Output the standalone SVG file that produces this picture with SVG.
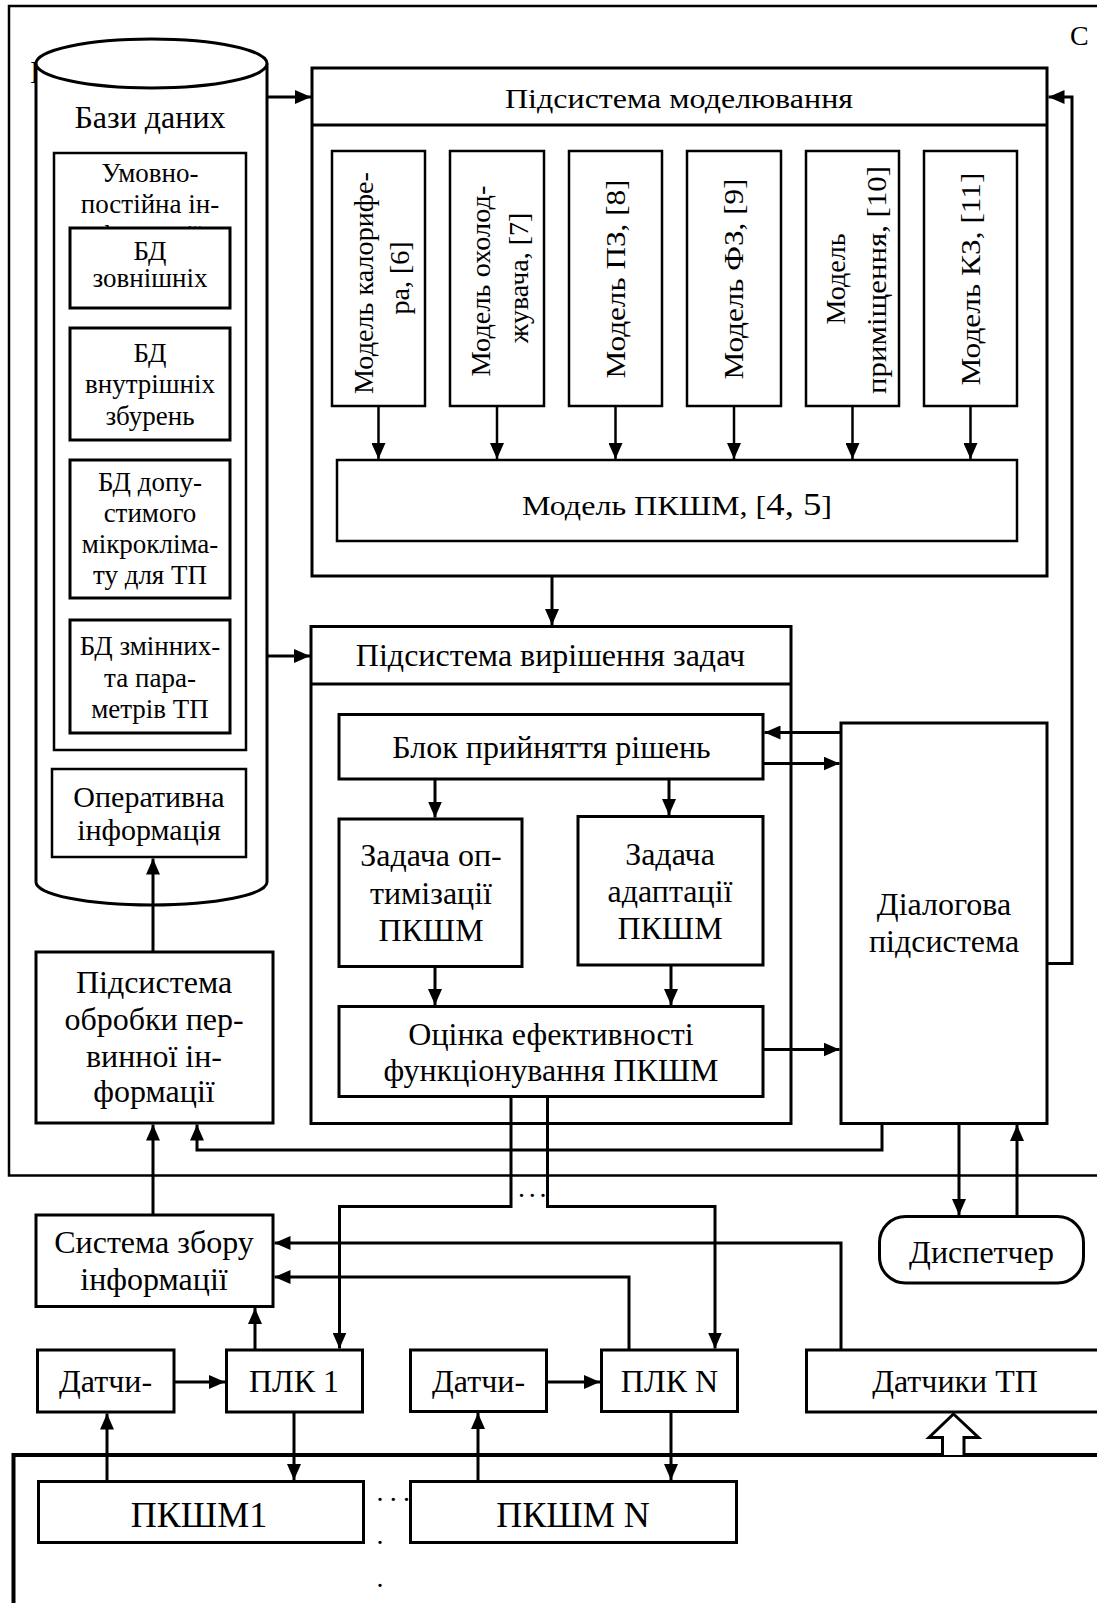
<svg xmlns="http://www.w3.org/2000/svg" width="1097" height="1603" viewBox="0 0 1097 1603">
<style>
.box{fill:#fff;stroke:#000;stroke-width:3}
.bx2{fill:#fff;stroke:#000;stroke-width:2.5}
.ln{fill:none;stroke:#000;stroke-width:3}
.ln2{fill:none;stroke:#000;stroke-width:2.5}
.ar{marker-end:url(#ah)}
.t{font-family:"Liberation Serif","Times New Roman",serif;font-size:32px;text-anchor:middle;fill:#000}
.s{font-size:27px}
.m{font-size:30px}
.r{font-size:28px}
.d{font-family:"Liberation Serif","Times New Roman",serif;font-size:28px;fill:#000}
</style>
<defs>
<marker id="ah" markerUnits="userSpaceOnUse" markerWidth="16" markerHeight="14" refX="16" refY="7" orient="auto"><path d="M0,0 L16,7 L0,14 z" fill="#000"/></marker>
</defs>
<rect width="1097" height="1603" fill="#fff"/>

<!-- frames -->
<g id="frames">
<rect x="9" y="6" width="1110" height="1169.5" fill="none" stroke="#000" stroke-width="2.5"/>
<text class="t" x="30" y="83" style="text-anchor:start">Б</text>
<text class="t" x="1070" y="45" style="text-anchor:start;font-size:28px">С</text>
<rect x="13.5" y="1455" width="1110" height="200" fill="none" stroke="#000" stroke-width="4"/>
</g>

<!-- databases cylinder -->
<g id="bazy-danyh">
<path d="M36,63.5 V882 A115.5,23 0 0 0 267,882 V63.5" fill="#fff" stroke="#000" stroke-width="3"/>
<ellipse cx="151.5" cy="63.5" rx="115.5" ry="24.5" fill="#fff" stroke="#000" stroke-width="3"/>
<text class="t" x="150" y="128">Бази даних</text>
</g>
<g id="umovno-postiyna">
<rect class="bx2" x="54" y="153" width="192" height="597"/>
<text class="t s" x="150" y="182">Умовно-</text>
<text class="t s" x="150" y="213">постійна ін-</text>
<text class="t s" x="150" y="244">формації</text>
</g>
<g id="bd-zovnishnih">
<rect class="box" x="70" y="228" width="160" height="80"/>
<text class="t s" x="150" y="260">БД</text>
<text class="t s" x="150" y="287">зовнішніх</text>
</g>
<g id="bd-vnutrishnih">
<rect class="box" x="70" y="328" width="160" height="112"/>
<text class="t s" x="150" y="362">БД</text>
<text class="t s" x="150" y="393">внутрішніх</text>
<text class="t s" x="150" y="425">збурень</text>
</g>
<g id="bd-dopustymogo">
<rect class="box" x="70" y="460" width="160" height="138"/>
<text class="t s" x="150" y="491">БД допу-</text>
<text class="t s" x="150" y="522">стимого</text>
<text class="t s" x="150" y="553">мікрокліма-</text>
<text class="t s" x="150" y="584">ту для ТП</text>
</g>
<g id="bd-zminnyh">
<rect class="box" x="70" y="620" width="160" height="113"/>
<text class="t s" x="150" y="655">БД змінних-</text>
<text class="t s" x="150" y="687">та пара-</text>
<text class="t s" x="150" y="718">метрів ТП</text>
</g>
<g id="operatyvna">
<rect class="bx2" x="52" y="769" width="194" height="88"/>
<text class="t m" x="149" y="807">Оперативна</text>
<text class="t m" x="149" y="840">інформація</text>
</g>

<!-- modelling subsystem -->
<g id="pidsystema-modelyuvannya">
<rect class="box" x="312" y="68" width="735" height="508"/>
<line x1="312" y1="125" x2="1047" y2="125" stroke="#000" stroke-width="3"/>
<text class="t" x="679" y="108" style="font-size:28px" textLength="348" lengthAdjust="spacingAndGlyphs">Підсистема моделювання</text>
</g>
<g id="model-kalorifera">
<rect class="bx2" x="332" y="151" width="93" height="255"/>
<text class="t r" transform="translate(373,283) rotate(-90)" textLength="222" lengthAdjust="spacingAndGlyphs">Модель калорифе-</text>
<text class="t r" transform="translate(409,278) rotate(-90)">ра, [6]</text>
</g>
<g id="model-oholodzhuvacha">
<rect class="bx2" x="450" y="151" width="94" height="255"/>
<text class="t r" transform="translate(490,281) rotate(-90)" textLength="191" lengthAdjust="spacingAndGlyphs">Модель охолод-</text>
<text class="t r" transform="translate(528,278) rotate(-90)">жувача, [7]</text>
</g>
<g id="model-pz">
<rect class="bx2" x="569" y="151" width="93" height="255"/>
<text class="t r" transform="translate(625,279) rotate(-90)" textLength="199" lengthAdjust="spacingAndGlyphs">Модель ПЗ, [8]</text>
</g>
<g id="model-fz">
<rect class="bx2" x="687" y="151" width="94" height="255"/>
<text class="t r" transform="translate(743,279) rotate(-90)" textLength="201" lengthAdjust="spacingAndGlyphs">Модель ФЗ, [9]</text>
</g>
<g id="model-prymishchennya">
<rect class="bx2" x="806" y="151" width="93" height="255"/>
<text class="t r" transform="translate(845,279) rotate(-90)">Модель</text>
<text class="t r" transform="translate(886,280) rotate(-90)" textLength="228" lengthAdjust="spacingAndGlyphs">приміщення, [10]</text>
</g>
<g id="model-kz">
<rect class="bx2" x="924" y="151" width="93" height="255"/>
<text class="t r" transform="translate(980,279) rotate(-90)" textLength="213" lengthAdjust="spacingAndGlyphs">Модель КЗ, [11]</text>
</g>
<g id="model-pkshm">
<rect class="bx2" x="337" y="460" width="680" height="81"/>
<text class="t" x="677" y="515" style="font-size:28px" textLength="310" lengthAdjust="spacingAndGlyphs">Модель ПКШМ, [<tspan style="font-size:32px">4, 5</tspan>]</text>
</g>

<!-- problem solving subsystem -->
<g id="pidsystema-vyrishennya">
<rect class="box" x="311" y="626.5" width="480" height="497"/>
<line x1="311" y1="684" x2="791" y2="684" stroke="#000" stroke-width="3"/>
<text class="t" x="550.5" y="666">Підсистема вирішення задач</text>
</g>
<g id="blok-pryynyattya">
<rect class="box" x="339" y="714.5" width="424" height="64.5"/>
<text class="t" x="551.5" y="757.5">Блок прийняття рішень</text>
</g>
<g id="zadacha-optymizatsiyi">
<rect class="box" x="339" y="819" width="183" height="147.5"/>
<text class="t" x="431" y="866">Задача оп-</text>
<text class="t" x="431" y="904">тимізації</text>
<text class="t" x="431" y="941">ПКШМ</text>
</g>
<g id="zadacha-adaptatsiyi">
<rect class="box" x="578" y="816.5" width="185" height="148.5"/>
<text class="t" x="670" y="864.5">Задача</text>
<text class="t" x="670" y="902">адаптації</text>
<text class="t" x="670" y="939">ПКШМ</text>
</g>
<g id="otsinka">
<rect class="box" x="339" y="1006.5" width="424" height="90"/>
<text class="t" x="551" y="1045">Оцінка ефективності</text>
<text class="t" x="551" y="1081">функціонування ПКШМ</text>
</g>
<g id="dialogova">
<rect class="box" x="841" y="723" width="206" height="400.5"/>
<text class="t" x="944" y="915">Діалогова</text>
<text class="t" x="944" y="952">підсистема</text>
</g>

<g id="obrobka">
<rect class="box" x="36" y="952" width="237" height="171"/>
<text class="t" x="154" y="993">Підсистема</text>
<text class="t" x="154" y="1030">обробки пер-</text>
<text class="t" x="154" y="1066.5">винної ін-</text>
<text class="t" x="154" y="1101.5">формації</text>
</g>
<g id="systema-zboru">
<rect class="box" x="36" y="1215" width="237" height="91.5"/>
<text class="t" x="154" y="1253">Система збору</text>
<text class="t" x="154" y="1290">інформації</text>
</g>
<g id="dyspetcher">
<rect class="box" x="879.5" y="1216.5" width="204" height="66.5" rx="26"/>
<text class="t" x="981.5" y="1263">Диспетчер</text>
</g>
<g id="datchyky-1">
<rect class="box" x="37.5" y="1350" width="136.5" height="62"/>
<text class="t" x="105.5" y="1392">Датчи-</text>
</g>
<g id="plk-1">
<rect class="box" x="226.5" y="1350" width="136" height="62"/>
<text class="t" x="294" y="1392">ПЛК 1</text>
</g>
<g id="datchyky-n">
<rect class="box" x="410.5" y="1350" width="136" height="61.5"/>
<text class="t" x="478.5" y="1392">Датчи-</text>
</g>
<g id="plk-n">
<rect class="box" x="601.5" y="1350" width="136" height="61.5"/>
<text class="t" x="669.5" y="1392">ПЛК N</text>
</g>
<g id="datchyky-tp">
<rect class="box" x="806.5" y="1350" width="320" height="62"/>
<text class="t" x="955" y="1392">Датчики ТП</text>
</g>
<g id="pkshm-1">
<rect class="box" x="38.5" y="1481.5" width="325" height="61"/>
<text class="t" x="199" y="1527" style="font-size:36px">ПКШМ1</text>
</g>
<g id="pkshm-n">
<rect class="box" x="410.5" y="1481.5" width="326" height="61"/>
<text class="t" x="573" y="1527" style="font-size:36px">ПКШМ N</text>
</g>
<g id="ellipses">
<text class="d" x="518" y="1197" letter-spacing="3.7">...</text>
<text class="d" x="376.5" y="1501" letter-spacing="6.3">...</text>
<text class="d" x="380" y="1544" style="text-anchor:middle">.</text>
<text class="d" x="380" y="1587" style="text-anchor:middle">.</text>
</g>

<!-- connectors -->
<g id="connectors">
<line class="ln ar" x1="267" y1="97" x2="311" y2="97"/>
<line class="ln ar" x1="267" y1="656" x2="310" y2="656"/>
<line class="ln2 ar" x1="378.5" y1="406" x2="378.5" y2="459"/>
<line class="ln2 ar" x1="497" y1="406" x2="497" y2="459"/>
<line class="ln2 ar" x1="615.5" y1="406" x2="615.5" y2="459"/>
<line class="ln2 ar" x1="734" y1="406" x2="734" y2="459"/>
<line class="ln2 ar" x1="852.5" y1="406" x2="852.5" y2="459"/>
<line class="ln2 ar" x1="970.5" y1="406" x2="970.5" y2="459"/>
<line class="ln ar" x1="552" y1="576" x2="552" y2="625"/>
<line class="ln ar" x1="435" y1="779" x2="435" y2="817.5"/>
<line class="ln ar" x1="669" y1="779" x2="669" y2="815"/>
<line class="ln ar" x1="435" y1="966.5" x2="435" y2="1005"/>
<line class="ln ar" x1="671" y1="965" x2="671" y2="1005"/>
<line class="ln ar" x1="841" y1="732.5" x2="764.5" y2="732.5"/>
<line class="ln ar" x1="763" y1="763.5" x2="839.5" y2="763.5"/>
<line class="ln ar" x1="763" y1="1049.5" x2="839.5" y2="1049.5"/>
<path class="ln ar" d="M1047,963.5 H1072 V97 H1048.5"/>
<path class="ln ar" d="M882,1123.5 V1150 H197 V1124.5"/>
<line class="ln ar" x1="153" y1="952" x2="153" y2="858.5"/>
<line class="ln ar" x1="153" y1="1215" x2="153" y2="1124.5"/>
<path class="ln ar" d="M511,1096.5 V1206.5 H339.5 V1348.5"/>
<path class="ln ar" d="M547.5,1096.5 V1206.5 H715 V1348.5"/>
<path class="ln ar" d="M841,1350 V1243 H274.5"/>
<path class="ln ar" d="M629,1350 V1277 H274.5"/>
<line class="ln ar" x1="255" y1="1350" x2="255" y2="1308"/>
<line class="ln ar" x1="174" y1="1382" x2="225" y2="1382"/>
<line class="ln ar" x1="546.5" y1="1382" x2="600" y2="1382"/>
<line class="ln ar" x1="294" y1="1412" x2="294" y2="1480"/>
<line class="ln ar" x1="671" y1="1411.5" x2="671" y2="1480"/>
<line class="ln ar" x1="107" y1="1481.5" x2="107" y2="1413.5"/>
<line class="ln ar" x1="478" y1="1481.5" x2="478" y2="1413"/>
<line class="ln ar" x1="959" y1="1123.5" x2="959" y2="1215"/>
<line class="ln ar" x1="1017" y1="1216.5" x2="1017" y2="1125"/>
<path d="M942.5,1455 V1437.5 H929 L953.5,1414 L978.5,1437.5 H964 V1455" fill="#fff" stroke="#000" stroke-width="3"/>
</g>
</svg>
